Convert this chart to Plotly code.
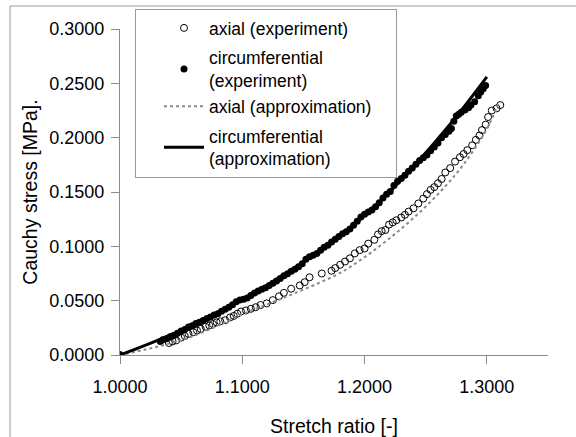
import plotly.graph_objects as go

# ---------------- data ----------------
axial_exp_x = [1.0000, 1.0400, 1.0430, 1.0460, 1.0500, 1.0530, 1.0560, 1.0600, 1.0630, 1.0660,
               1.0700, 1.0730, 1.0760, 1.0790, 1.0820, 1.0860, 1.0900, 1.0930, 1.0960, 1.0990,
               1.1030, 1.1070, 1.1110, 1.1150, 1.1200, 1.1250, 1.1300, 1.1340, 1.1400, 1.1470,
               1.1510, 1.1550, 1.1650, 1.1730, 1.1760, 1.1800, 1.1840, 1.1880, 1.1920, 1.1960,
               1.2000, 1.2030, 1.2080, 1.2110, 1.2140, 1.2170, 1.2200, 1.2230, 1.2260, 1.2300,
               1.2330, 1.2360, 1.2400, 1.2440, 1.2480, 1.2510, 1.2540, 1.2570, 1.2600, 1.2630,
               1.2660, 1.2700, 1.2740, 1.2780, 1.2810, 1.2840, 1.2880, 1.2910, 1.2940, 1.2960,
               1.2990, 1.3010, 1.3040, 1.3080, 1.3110]
axial_exp_y = [0.0000, 0.0110, 0.0125, 0.0135, 0.0160, 0.0175, 0.0195, 0.0210, 0.0225, 0.0240,
               0.0260, 0.0272, 0.0285, 0.0300, 0.0310, 0.0320, 0.0345, 0.0360, 0.0380, 0.0400,
               0.0410, 0.0425, 0.0440, 0.0460, 0.0475, 0.0505, 0.0540, 0.0572, 0.0610, 0.0640,
               0.0670, 0.0715, 0.0750, 0.0775, 0.0800, 0.0830, 0.0860, 0.0890, 0.0935, 0.0965,
               0.0980, 0.1025, 0.1060, 0.1110, 0.1140, 0.1150, 0.1200, 0.1220, 0.1240, 0.1265,
               0.1290, 0.1320, 0.1350, 0.1395, 0.1440, 0.1480, 0.1520, 0.1545, 0.1580, 0.1620,
               0.1680, 0.1720, 0.1780, 0.1820, 0.1850, 0.1885, 0.1930, 0.1980, 0.2020, 0.2070,
               0.2120, 0.2190, 0.2250, 0.2270, 0.2300]

circ_exp_x = [1.0000, 1.0330, 1.0350, 1.0380, 1.0410, 1.0440, 1.0470, 1.0500, 1.0530, 1.0560,
              1.0590, 1.0620, 1.0650, 1.0680, 1.0710, 1.0740, 1.0770, 1.0800, 1.0830, 1.0860,
              1.0890, 1.0920, 1.0950, 1.0980, 1.1010, 1.1040, 1.1070, 1.1100, 1.1130, 1.1160,
              1.1190, 1.1220, 1.1250, 1.1280, 1.1310, 1.1340, 1.1370, 1.1400, 1.1430, 1.1460,
              1.1490, 1.1520, 1.1550, 1.1580, 1.1610, 1.1640, 1.1670, 1.1700, 1.1730, 1.1760,
              1.1790, 1.1820, 1.1850, 1.1880, 1.1910, 1.1940, 1.1970, 1.2000, 1.2030, 1.2060,
              1.2090, 1.2120, 1.2150, 1.2180, 1.2210, 1.2240, 1.2270, 1.2300, 1.2330, 1.2360,
              1.2390, 1.2420, 1.2450, 1.2480, 1.2510, 1.2540, 1.2570, 1.2600, 1.2630, 1.2660,
              1.2690, 1.2710, 1.2730, 1.2750, 1.2770, 1.2790, 1.2820, 1.2850, 1.2870, 1.2900,
              1.2930, 1.2950, 1.2970, 1.2990]
circ_exp_y = [0.0000, 0.0125, 0.0140, 0.0150, 0.0168, 0.0180, 0.0200, 0.0222, 0.0235, 0.0258,
              0.0270, 0.0290, 0.0302, 0.0318, 0.0335, 0.0350, 0.0368, 0.0380, 0.0402, 0.0420,
              0.0440, 0.0462, 0.0490, 0.0505, 0.0512, 0.0525, 0.0548, 0.0570, 0.0590, 0.0605,
              0.0620, 0.0640, 0.0660, 0.0682, 0.0705, 0.0730, 0.0748, 0.0770, 0.0790, 0.0812,
              0.0840, 0.0880, 0.0905, 0.0918, 0.0935, 0.0965, 0.0992, 0.1010, 0.1040, 0.1065,
              0.1090, 0.1115, 0.1135, 0.1160, 0.1195, 0.1230, 0.1270, 0.1295, 0.1315, 0.1335,
              0.1365, 0.1400, 0.1445, 0.1480, 0.1505, 0.1560, 0.1600, 0.1625, 0.1655, 0.1690,
              0.1720, 0.1755, 0.1790, 0.1815, 0.1840, 0.1880, 0.1915, 0.1950, 0.2000, 0.2030,
              0.2060, 0.2085, 0.2150, 0.2200, 0.2215, 0.2235, 0.2255, 0.2275, 0.2300, 0.2330,
              0.2385, 0.2420, 0.2450, 0.2480]

axial_fit_x = [1.00, 1.02, 1.04, 1.06, 1.08, 1.10, 1.12, 1.14, 1.16, 1.18,
               1.20, 1.22, 1.24, 1.26, 1.28, 1.30, 1.31]
axial_fit_y = [0.0000, 0.0048, 0.0105, 0.0175, 0.0270, 0.0375, 0.0465, 0.0555, 0.0650, 0.0755,
               0.0900, 0.1070, 0.1260, 0.1480, 0.1740, 0.2080, 0.2330]

circ_fit_x = [1.00, 1.02, 1.04, 1.06, 1.08, 1.10, 1.12, 1.14, 1.16, 1.18,
              1.20, 1.22, 1.24, 1.26, 1.28, 1.30]
circ_fit_y = [0.0000, 0.0086, 0.0178, 0.0280, 0.0390, 0.0510, 0.0640, 0.0780, 0.0935, 0.1100,
              0.1285, 0.1495, 0.1735, 0.1990, 0.2265, 0.2560]

x_ticks = [1.0, 1.1, 1.2, 1.3]
y_ticks = [0.0, 0.05, 0.10, 0.15, 0.20, 0.25, 0.30]

# ---------------- figure ----------------
FONT = "Liberation Sans, Arial, sans-serif"
W, H = 576, 437
L, R, T, B = 120, 28, 29, 82
pw, ph = W - L - R, H - T - B

def px_x(p):
    return (p - L) / pw

def px_y(p):
    return (H - B - p) / ph

fig = go.Figure()
fig.add_trace(go.Scatter(
    x=axial_exp_x, y=axial_exp_y, mode="markers", name="axial (experiment)",
    marker=dict(symbol="circle-open", size=7, color="black", line=dict(width=1, color="black")),
    legendgroup="g1"))
fig.add_trace(go.Scatter(
    x=circ_exp_x, y=circ_exp_y, mode="markers", name="circumferential<br>(experiment)",
    marker=dict(symbol="circle", size=7, color="black"), legendgroup="g2"))
fig.add_trace(go.Scatter(
    x=axial_fit_x, y=axial_fit_y, mode="lines",
    name="axial (approximation)\u00a0\u00a0\u00a0\u00a0",
    line=dict(color="#8a8a8a", width=2, dash="dot", shape="spline"), legendgroup="g2"))
fig.add_trace(go.Scatter(
    x=circ_fit_x, y=circ_fit_y, mode="lines", name="circumferential<br>(approximation)",
    line=dict(color="black", width=3, shape="spline"), legendgroup="g3"))

fig.update_layout(
    width=W, height=H,
    margin=dict(l=L, r=R, t=T, b=B, autoexpand=False),
    paper_bgcolor="white", plot_bgcolor="white",
    font=dict(family=FONT, size=18, color="black"),
    showlegend=True,
    legend=dict(
        x=px_x(135), y=px_y(9), xanchor="left", yanchor="top",
        bgcolor="white", bordercolor="#9a9a9a", borderwidth=1,
        font=dict(size=17.5), itemwidth=40, indentation=23,
        traceorder="grouped", tracegroupgap=4,
    ),
    xaxis=dict(
        range=[1.0, 1.35], tickvals=x_ticks, tickformat=".4f",
        showline=True, linecolor="#8c8c8c", linewidth=1,
        ticks="outside", ticklen=8, tickcolor="#8c8c8c", ticklabelstandoff=7,
        showgrid=False, zeroline=False,
        title=dict(text="Stretch ratio [-]", font=dict(size=19.5), standoff=23),
    ),
    yaxis=dict(
        range=[0.0, 0.3], tickvals=y_ticks, tickformat=".4f",
        showline=True, linecolor="#8c8c8c", linewidth=1,
        ticks="outside", ticklen=8, tickcolor="#8c8c8c", ticklabelstandoff=3,
        showgrid=False, zeroline=False,
        title=dict(text="Cauchy stress [MPa].", font=dict(size=19.5), standoff=6),
    ),
    shapes=[dict(type="rect", xref="paper", yref="paper",
                 x0=px_x(10), y0=-1, x1=3, y1=px_y(6),
                 line=dict(color="#9a9a9a", width=1), layer="below")],
)

fig.write_html("out.html", config={"displayModeBar": False},
               post_script="document.body.style.margin='0';")
